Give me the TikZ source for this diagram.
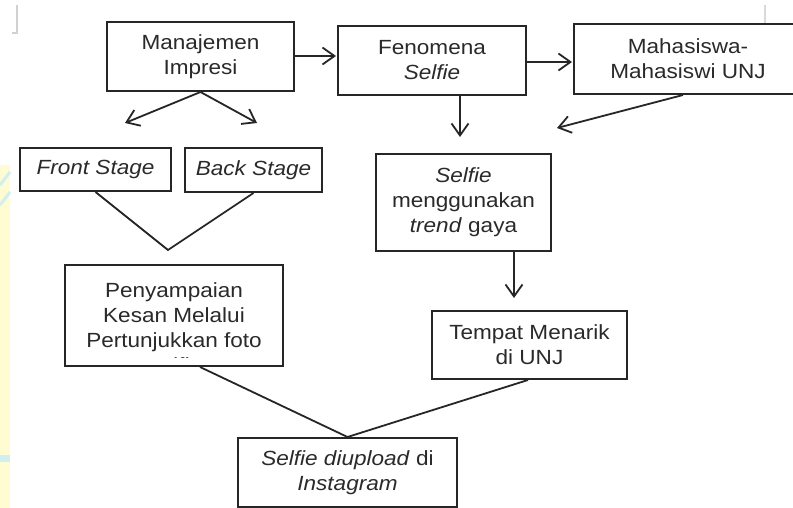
\documentclass[tikz,border=0pt]{standalone}
\usepackage{fontspec}
\setmainfont[FakeStretch=1.1]{Liberation Sans}
\usetikzlibrary{arrows.meta,calc}
\definecolor{ink}{HTML}{262626}
\definecolor{txt}{HTML}{2A2A2A}
\definecolor{wmy}{HTML}{FFFBD2}
\definecolor{wmc}{HTML}{CFEFF0}
\tikzset{
  box/.style={draw=ink,line width=2pt,rectangle,inner sep=0pt,align=center,text=txt,
    font=\fontsize{20.5}{25}\selectfont},
  lbl/.style={inner sep=0pt,align=center,text=txt,font=\fontsize{20.5}{25}\selectfont},
  conn/.style={draw=ink,line width=1.8pt},
  arr/.style={conn,-{Straight Barb[length=12pt,width=17pt,line width=1.8pt]}}
}
\begin{document}
\begin{tikzpicture}[x=1pt,y=-1pt]
\clip (0,0) rectangle (793,508);
\fill[white] (0,0) rectangle (793,508);
% faint background artefacts
\fill[wmy] (0,165) rectangle (10,508);
\fill[wmc] (0,455) rectangle (10,462);
\draw[wmc,line width=3pt] (0,185) -- (10,172);
\draw[wmc,line width=3pt] (0,205) -- (10,192);
\draw[black!18,line width=1.2pt] (17,5) -- (17,33) -- (12,33);
\draw[black!15,line width=1.2pt] (765,5) -- (765,25);
% boxes
\node[box,minimum width=187pt,minimum height=69pt] (mi) at (200.5,56.5) {Manajemen\\Impresi};
\node[box,minimum width=188pt,minimum height=69pt] (fs) at (432,60.5) {Fenomena\\\textit{Selfie}};
\node[box,minimum width=228pt,minimum height=70pt] (mm) at (688,59) {Mahasiswa-\\Mahasiswi UNJ};
\node[box,minimum width=151pt,minimum height=43pt] (front) at (95.5,169.5) {\textit{Front Stage}};
\node[box,minimum width=137pt,minimum height=44pt] (back) at (253.5,170) {\textit{Back Stage}};
\node[box,minimum width=218pt,minimum height=101pt] (pk) at (174,315.5) {};
\begin{scope}
\clip (65,265) rectangle (283,357);
\node[lbl] (pkt) at (174,328) {Penyampaian\\Kesan Melalui\\Pertunjukkan foto\\\textit{selfie}};
\end{scope}
\node[box,minimum width=175pt,minimum height=97pt] (sm) at (463.5,202.5) {\textit{Selfie}\\menggunakan\\\textit{trend} gaya};
\node[box,minimum width=195pt,minimum height=68pt] (tm) at (529.5,345) {Tempat Menarik\\di UNJ};
\node[box,minimum width=219pt,minimum height=69pt] (su) at (347.5,472.5) {\textit{Selfie diupload} di\\\textit{Instagram}};
% free ends
\coordinate (aL) at (125,123);
\coordinate (aR) at (257,123);
\coordinate (aF) at (460,137);
\coordinate (aM) at (557,128);
\coordinate (v1) at (168,250);
\coordinate (aS) at (514,298);
% connectors
\draw[arr] ($(mi.east)+(0,-0.5)$) -- ($(mi.east -| fs.west)+(-1,-0.5)$);
\draw[arr] ($(fs.east)+(0,1.5)$) -- ($(fs.east -| mm.west)+(-1,1.5)$);
\draw[arr] (mi.south) -- (aL);
\draw[arr] (mi.south) -- (aR);
\draw[arr] (aF |- fs.south) -- (aF);
\draw[arr] ($(mm.south)+(-5,0)$) -- (aM);
\draw[conn] (front.south) -- (v1) -- (back.south);
\draw[arr] (aS |- sm.south) -- (aS);
\draw[conn] ($(pk.south)+(26,0)$) -- (su.north) -- ($(tm.south)+(-1.5,0)$);
\end{tikzpicture}
\end{document}
